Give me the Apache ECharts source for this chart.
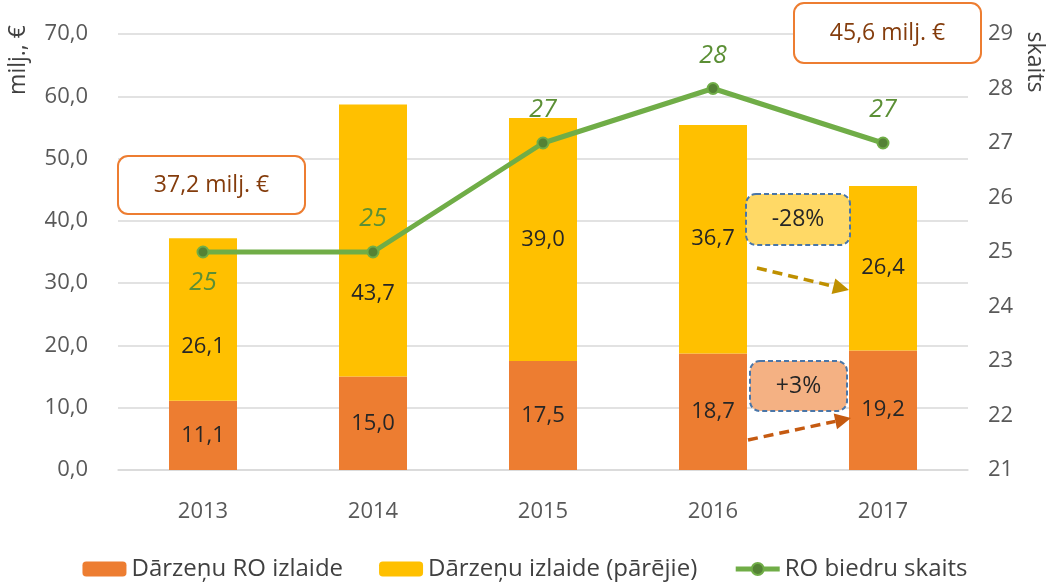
<!DOCTYPE html>
<html>
<head>
<meta charset="utf-8">
<script src="https://cdn.jsdelivr.net/npm/echarts@6/dist/echarts.min.js"></script>
<style>
  html, body { margin: 0; padding: 0; background: #fff; }
  #chart { width: 1050px; height: 587px; }
</style>
</head>
<body>
<div id="chart"></div>
<script>
const years = ['2013', '2014', '2015', '2016', '2017']
const roOutput = [11.1, 15.0, 17.5, 18.7, 19.2]
const otherOutput = [26.1, 43.7, 39.0, 36.7, 26.4]
const members = [25, 25, 27, 28, 27]

const FONT = '"Open Sans", "Noto Sans", sans-serif'
const fmt = v => v.toFixed(1).replace('.', ',')

// nobīde dzeltenajām etiķetēm, lai nepārklājas ar līnijas etiķetēm
const otherLabelShift = [27, 53, 0, 0, 0]

const chart = echarts.init(document.getElementById('chart'))

function arrow(x1, y1, x2, y2, color) {
  const a = Math.atan2(y2 - y1, x2 - x1)
  const len = 16, w = 8
  const bx = x2 - len * Math.cos(a), by = y2 - len * Math.sin(a)
  const px = -Math.sin(a) * w, py = Math.cos(a) * w
  return [
    { type: 'line', z: 100, shape: { x1, y1, x2: bx, y2: by },
      style: { stroke: color, lineWidth: 3.5, lineDash: [10, 6] } },
    { type: 'polygon', z: 100, shape: { points: [[x2, y2], [bx + px, by + py], [bx - px, by - py]] },
      style: { fill: color } }
  ]
}

function box(x, y, w, h, text, fill, stroke, dashed, color) {
  return {
    type: 'group', left: x, top: y, z: 100,
    children: [
      { type: 'rect', z: 100, shape: { x: 0, y: 0, width: w, height: h, r: 10 },
        style: { fill, stroke, lineWidth: 2, lineDash: dashed ? [5, 3] : null } },
      { type: 'text', z: 101, x: w / 2, y: h / 2,
        style: { text, fill: color, font: '23px ' + FONT, align: 'center', verticalAlign: 'middle' } }
    ]
  }
}

chart.setOption({
  backgroundColor: '#fff',
  animation: false,
  textStyle: { fontFamily: FONT },
  grid: { left: 118, right: 82, top: 34, bottom: 117 },
  legend: {
    bottom: 1,
    left: 'center',
    itemGap: 36,
    itemWidth: 44,
    itemHeight: 15,
    textStyle: { fontSize: 24, color: '#404040', fontFamily: FONT },
    data: [
      'Dārzeņu RO izlaide',
      'Dārzeņu izlaide (pārējie)',
      { name: 'RO biedru skaits', lineStyle: { width: 5, color: '#70ad47' } }
    ]
  },
  xAxis: {
    type: 'category',
    data: years,
    axisTick: { show: false },
    axisLine: { lineStyle: { color: '#d9d9d9', width: 1.5 } },
    axisLabel: { color: '#595959', fontSize: 22, margin: 31 }
  },
  yAxis: [
    {
      type: 'value', min: 0, max: 70, interval: 10,
      axisLabel: { color: '#595959', fontSize: 22, margin: 30, formatter: fmt },
      axisLine: { show: false }, axisTick: { show: false },
      splitLine: { lineStyle: { color: '#d9d9d9', width: 1.5 } }
    },
    {
      type: 'value', min: 21, max: 29, interval: 1,
      axisLabel: { color: '#595959', fontSize: 22, margin: 20 },
      axisLine: { show: false }, axisTick: { show: false },
      splitLine: { show: false }
    }
  ],
  series: [
    {
      name: 'Dārzeņu RO izlaide',
      type: 'bar', stack: 'total', barWidth: 68,
      itemStyle: { color: '#ed7d31' },
      label: { show: true, position: 'inside', color: '#262626', fontSize: 22, formatter: p => fmt(p.value) },
      data: roOutput
    },
    {
      name: 'Dārzeņu izlaide (pārējie)',
      type: 'bar', stack: 'total', barWidth: 68,
      itemStyle: { color: '#ffc000' },
      label: { show: true, position: 'inside', color: '#262626', fontSize: 22, formatter: p => fmt(p.value) },
      data: otherOutput.map((v, i) => ({ value: v, label: { offset: [0, otherLabelShift[i]] } }))
    },
    {
      name: 'RO biedru skaits',
      type: 'line', yAxisIndex: 1,
      symbol: 'circle', symbolSize: 11,
      lineStyle: { color: '#70ad47', width: 5 },
      itemStyle: { color: '#548235', borderColor: '#70ad47', borderWidth: 2 },
      label: { show: true, position: 'top', distance: 14, color: '#5b8f35', fontSize: 25, fontStyle: 'italic' },
      data: members.map((v, i) => i === 0 ? { value: v, label: { position: 'bottom', distance: 12 } } : v)
    }
  ],
  graphic: [
    box(117, 155, 187, 58, '37,2 milj. €', '#fff', '#ed7d31', false, '#843c0c'),
    box(793, 2, 187, 60, '45,6 milj. €', '#fff', '#ed7d31', false, '#843c0c'),
    box(745, 193, 104, 51, '-28%', '#ffd966', '#4a76a8', true, '#262626'),
    box(749, 360, 97, 50, '+3%', '#f4b183', '#4a76a8', true, '#262626'),
    ...arrow(757, 268, 849, 290, '#bf9000'),
    ...arrow(748, 440, 851, 418, '#c55a11'),
    { type: 'text', x: 18, y: 60, rotation: Math.PI / 2,
      style: { text: 'milj., €', fill: '#404040', font: '23px ' + FONT, align: 'center', verticalAlign: 'middle' } },
    { type: 'text', x: 1035, y: 62, rotation: -Math.PI / 2,
      style: { text: 'skaits', fill: '#404040', font: '23px ' + FONT, align: 'center', verticalAlign: 'middle' } }
  ]
})

window.addEventListener('resize', () => chart.resize())
</script>
</body>
</html>
